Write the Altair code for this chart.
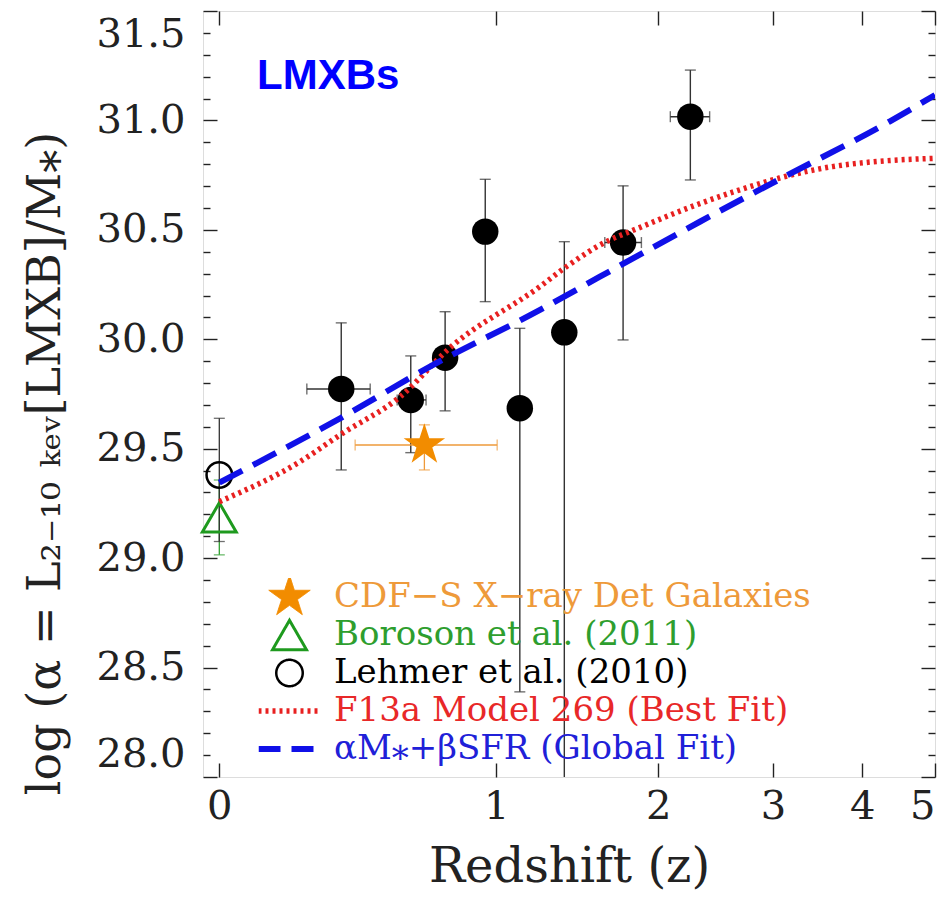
import altair as alt
import pandas as pd

# ---------------- data ----------------
# CDF-S stacked points (black filled circles)
pt_z = [0.357, 0.615, 0.760, 0.946, 1.122, 1.372, 1.748, 2.252]
pt_y = [29.773, 29.723, 29.916, 30.492, 29.685, 30.032, 30.442, 31.017]
pt_ylo = [29.403, 29.482, 29.673, 30.172, 28.389, 27.900, 29.997, 30.728]
pt_yhi = [30.075, 29.924, 30.126, 30.731, 30.050, 30.446, 30.701, 31.230]
# horizontal error bars (only for some points)
hx_y = [29.773, 29.723, 30.442, 31.017]
hx_zlo = [0.245, 0.561, 1.625, 2.093]
hx_zhi = [0.459, 0.678, 1.877, 2.413]

# CDF-S X-ray detected galaxies (orange star)
star_z = [0.671]
star_y = [29.517]
star_ylo = [29.403]
star_yhi = [29.609]
star_zlo = [0.405]
star_zhi = [1.005]

# Boroson et al. (2011) (green triangle)
bor_z = [0.0]
bor_y = [29.186]
bor_ylo = [29.015]
bor_yhi = [29.357]

# Lehmer et al. (2010) (black open circle)
leh_z = [0.0]
leh_y = [29.380]
leh_ylo = [29.076]
leh_yhi = [29.639]

# F13a Model 269 (red dotted)
red_z = [0.0, 0.224, 0.353, 0.573, 0.780, 1.232, 1.385, 1.658, 1.795, 2.330, 2.772, 3.065, 3.640, 4.050, 5.0]
red_y = [29.258, 29.441, 29.563, 29.738, 29.960, 30.241, 30.332, 30.454, 30.492, 30.620, 30.697, 30.737,
         30.789, 30.808, 30.827]

# Global fit (blue dashed)
blue_z = [0.0, 0.353, 0.708, 1.232, 1.593, 2.330, 2.772, 3.065, 4.354, 5.0]
blue_y = [29.345, 29.639, 29.883, 30.134, 30.286, 30.537, 30.659, 30.731, 30.995, 31.116]

series_names = [
    "CDF\u2212S X\u2212ray Det Galaxies",
    "Boroson et al. (2011)",
    "Lehmer et al. (2010)",
    "F13a Model 269 (Best Fit)",
    "\u03b1M\u204e+\u03b2SFR (Global Fit)",
]
series_colors = ["#F28C00", "#1E9A1E", "#000000", "#E82020", "#1010E8"]
label_colors = ["#EE9A3A", "#2E9E2E", "#000000", "#E82828", "#2020D8"]

x_tick_values = [1, 2, 3, 4, 5, 6]          # 1+z
y_major = [28.0, 28.5, 29.0, 29.5, 30.0, 30.5, 31.0, 31.5]
y_minor = [round(28.0 + 0.1 * i, 1) for i in range(36)]
y_minor = [v for v in y_minor if v not in y_major]

STAR = ("M0,-1L0.2245,-0.309L0.951,-0.309L0.363,0.118L0.588,0.809L0,0.382"
        "L-0.588,0.809L-0.363,0.118L-0.951,-0.309L-0.2245,-0.309Z")

# ---------------- tables ----------------
pts = pd.DataFrame({"zp1": [1 + z for z in pt_z], "y": pt_y, "lo": pt_ylo, "hi": pt_yhi})
hx = pd.DataFrame({"y": hx_y, "zlo": [1 + z for z in hx_zlo], "zhi": [1 + z for z in hx_zhi]})
star = pd.DataFrame({"zp1": [1 + z for z in star_z], "y": star_y, "lo": star_ylo, "hi": star_yhi,
                     "zlo": [1 + z for z in star_zlo], "zhi": [1 + z for z in star_zhi]})
bor = pd.DataFrame({"zp1": [1 + z for z in bor_z], "y": bor_y, "lo": bor_ylo, "hi": bor_yhi})
leh = pd.DataFrame({"zp1": [1 + z for z in leh_z], "y": leh_y, "lo": leh_ylo, "hi": leh_yhi})
lines = pd.concat([
    pd.DataFrame({"series": series_names[3], "zp1": [1 + z for z in red_z], "y": red_y}),
    pd.DataFrame({"series": series_names[4], "zp1": [1 + z for z in blue_z], "y": blue_y}),
])

# ---------------- scales / axes ----------------
SERIF = "DejaVu Serif"
xs = alt.Scale(type="log", domain=[0.96, 6], nice=False)
ys = alt.Scale(domain=[28.0, 31.5], nice=False, zero=False)

common_axis = dict(grid=False, domain=False, tickColor="#222222", tickWidth=1.4)

x_bottom = alt.Axis(orient="bottom", values=x_tick_values, labelExpr="datum.value - 1",
                    offset=-14, tickSize=14, labelFont=SERIF, labelFontSize=40,
                    labelColor="#222222", labelPadding=9, labelFlush=True,
                    title="Redshift (z)", titleFont=SERIF, titleFontSize=48,
                    titleFontWeight="normal", titleColor="#222222",
                    titleX=366, titleY=118, titleAlign="center", titleBaseline="alphabetic",
                    **common_axis)
x_top = alt.Axis(orient="top", values=x_tick_values, offset=-14, tickSize=14,
                 labels=False, title=None, **common_axis)
y_left = alt.Axis(orient="left", values=y_major, offset=-14, tickSize=14, format=".1f",
                  labelFont=SERIF, labelFontSize=40, labelColor="#222222",
                  labelPadding=18, labelFlush=True, labelFlushOffset=-3,
                  title="log (\u03b1 = L\u2082\u208b\u2081\u2080 \u2096\u2091\u1d65[LMXB]/M\u204e)",
                  titleFont=SERIF, titleFontSize=46, titleFontWeight="normal",
                  titleColor="#222222", titleAngle=270, titleX=-172, titleY=452,
                  titleAlign="center", titleBaseline="middle", **common_axis)
y_left_minor = alt.Axis(orient="left", values=y_minor, offset=-7, tickSize=7,
                        labels=False, title=None, **common_axis)
y_right = alt.Axis(orient="right", values=y_major, offset=-14, tickSize=14,
                   labels=False, title=None, **common_axis)
y_right_minor = alt.Axis(orient="right", values=y_minor, offset=-7, tickSize=7,
                         labels=False, title=None, **common_axis)


def X(field="zp1", axis=None):
    return alt.X(f"{field}:Q", scale=xs, axis=axis, title=None)


def Y(field="y", axis=None):
    return alt.Y(f"{field}:Q", scale=ys, axis=axis, title=None)


def pick(values):
    def lit(v):
        if isinstance(v, str):
            return "'" + v + "'"
        if isinstance(v, (list, tuple)):
            return "[" + ",".join(str(x) for x in v) + "]"
        return str(v)
    expr = lit(values[-1])
    for name, v in reversed(list(zip(series_names[:-1], values[:-1]))):
        expr = f"datum.value === {lit(name)} ? {lit(v)} : ({expr})"
    return alt.ExprRef(expr=expr)


legend = alt.Legend(
    title=None, orient="none", legendX=55.5, legendY=567, direction="vertical",
    padding=0, rowPadding=0, clipHeight=38, labelOffset=27.5, symbolOffset=14,
    labelFont=SERIF, labelFontSize=34, labelLimit=800,
    labelColor=pick(label_colors),
    symbolType=pick([STAR, "triangle-up", "circle", "stroke", "stroke"]),
    symbolSize=pick([1900, 1150, 700, 3844, 3844]),
    symbolFillColor=pick([series_colors[0], "transparent", "transparent", "transparent", "transparent"]),
    symbolStrokeWidth=pick([1, 3, 2.5, 5.5, 6]),
    symbolDash=pick([[1, 0], [1, 0], [1, 0], [3, 4], [22, 11]]),
)

# ---------------- layers ----------------
err_main = alt.Chart(pts).mark_errorbar(ticks=True, size=11, thickness=1.4, color="#333333", clip=True).encode(
    x=X(), y=Y("lo"), y2="hi")
err_main_h = alt.Chart(hx).mark_errorbar(ticks=True, size=11, thickness=1.4, color="#333333", clip=True).encode(
    y=Y(), x=X("zlo"), x2="zhi")
err_star_v = alt.Chart(star).mark_errorbar(ticks=True, size=11, thickness=1.3, color="#EE9A3A").encode(
    x=X(), y=Y("lo"), y2="hi")
err_star_h = alt.Chart(star).mark_errorbar(ticks=True, size=11, thickness=1.3, color="#EE9A3A").encode(
    y=Y(), x=X("zlo"), x2="zhi")
err_bor = alt.Chart(bor).mark_errorbar(ticks=True, size=11, thickness=1.3, color="#2E9E2E").encode(
    x=X(), y=Y("lo"), y2="hi")
err_leh = alt.Chart(leh).mark_errorbar(ticks=True, size=11, thickness=1.3, color="#333333").encode(
    x=X(), y=Y("lo"), y2="hi")

circles = alt.Chart(pts).mark_point(shape="circle", filled=True, size=700, color="black", opacity=1).encode(
    x=X(axis=x_top), y=Y(axis=y_left_minor))
star_pt = alt.Chart(star).mark_point(shape=STAR, filled=True, size=1900, color=series_colors[0], opacity=1).encode(
    x=X(), y=Y(axis=y_right))
bor_pt = alt.Chart(bor).mark_point(shape="triangle-up", filled=False, size=1150, strokeWidth=3,
                                   color=series_colors[1], opacity=1).encode(x=X(), y=Y())
leh_pt = alt.Chart(leh).mark_point(shape="circle", filled=False, size=650, strokeWidth=2.5,
                                   color="black", opacity=1).encode(x=X(), y=Y(axis=y_right_minor))

line_layer = alt.Chart(lines).mark_line(interpolate="monotone", clip=True).encode(
    x=X(axis=x_bottom), y=Y(axis=y_left),
    color=alt.Color("series:N", scale=alt.Scale(domain=series_names, range=series_colors), legend=legend),
    strokeDash=alt.StrokeDash("series:N", scale=alt.Scale(domain=series_names[3:], range=[[3, 4], [26, 12]]),
                              legend=None),
    strokeWidth=alt.StrokeWidth("series:N", scale=alt.Scale(domain=series_names[3:], range=[5.5, 6]),
                                legend=None),
    detail="series:N",
)

chart = alt.layer(
    err_main, err_main_h, err_star_v, err_star_h, err_bor, err_leh,
    circles, star_pt, bor_pt, leh_pt, line_layer,
).resolve_axis(x="independent", y="independent").properties(
    width=732, height=766,
    autosize=alt.AutoSizeParams(type="none"),
    padding={"left": 195, "top": 3, "right": 3, "bottom": 115},
    title=alt.TitleParams("LMXBs", anchor="start", frame="group", orient="top", offset=-72, dx=54, dy=49,
                          baseline="alphabetic", font="Liberation Sans", fontSize=42,
                          fontWeight="bold", color="#0000FF"),
).configure_view(stroke="black", strokeWidth=1.5).configure(background="white")

chart.save("out.html", embed_options={"renderer": "svg", "actions": False})
